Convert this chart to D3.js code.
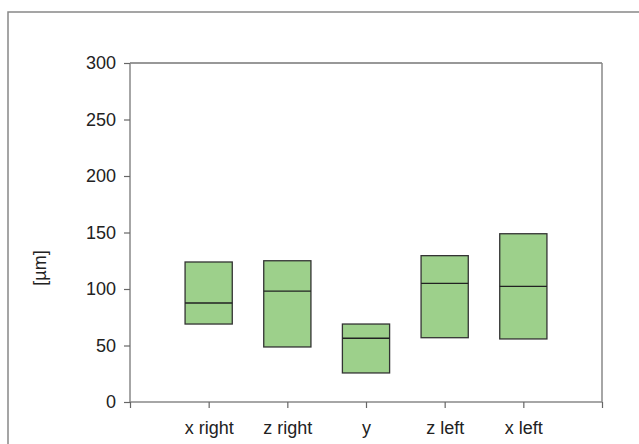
<!DOCTYPE html>
<html><head><meta charset="utf-8">
<script src="https://cdn.jsdelivr.net/npm/d3@7"></script>
<style>body{margin:0;background:#fff}svg{display:block}</style>
</head><body>
<svg id="c" width="639" height="444"></svg>
<script>
const categories = ["x right", "z right", "y", "z left", "x left"];
const lowValues = [69.0, 48.7, 25.7, 56.9, 55.8];
const medianValues = [87.6, 98.2, 56.4, 105.0, 102.4];
const highValues = [123.9, 125.0, 69.0, 129.5, 148.9];
const yTicks = [0, 50, 100, 150, 200, 250, 300];
const yLabel = "[µm]";

const svg = d3.select("#c");
const L = 130, R = 602, T = 63, B = 402;
const font = "'Liberation Sans', Arial, sans-serif";
const fs = 18;

// outer frame
svg.append("rect").attr("x", 8).attr("y", 12).attr("width", 700).attr("height", 500)
  .attr("fill", "none").attr("stroke", "#888").attr("stroke-width", 1.5);

const domain = ["_a", ...categories, "_b"];
const x = d3.scalePoint().domain(domain).range([L, R]);
const y = d3.scaleLinear().domain([0, 300]).range([B, T]);
const step = x.step();
const bw = step * 0.6;

// plot frame top & right
svg.append("line").attr("x1", L).attr("x2", R).attr("y1", T).attr("y2", T)
  .attr("stroke", "#333").attr("stroke-width", 1.2);
svg.append("line").attr("x1", R).attr("x2", R).attr("y1", T).attr("y2", B)
  .attr("stroke", "#888").attr("stroke-width", 1.5);

// boxes
const data = categories.map((c, i) => ({c, lo: lowValues[i], med: medianValues[i], hi: highValues[i]}));
const g = svg.append("g");
g.selectAll("rect.box").data(data).join("rect").attr("class", "box")
  .attr("x", d => x(d.c) - bw / 2).attr("width", bw)
  .attr("y", d => y(d.hi)).attr("height", d => y(d.lo) - y(d.hi))
  .attr("fill", "#9dd08b").attr("stroke", "#333").attr("stroke-width", 1.3);
g.selectAll("line.med").data(data).join("line").attr("class", "med")
  .attr("x1", d => x(d.c) - bw / 2).attr("x2", d => x(d.c) + bw / 2)
  .attr("y1", d => y(d.med)).attr("y2", d => y(d.med))
  .attr("stroke", "#222").attr("stroke-width", 1.3);

// y axis
const yAxis = svg.append("g").attr("transform", `translate(${L},0)`)
  .call(d3.axisLeft(y).tickValues(yTicks).tickSize(6).tickPadding(8));
// x axis
const xAxis = svg.append("g").attr("transform", `translate(0,${B})`)
  .call(d3.axisBottom(x).tickValues(domain).tickSize(6).tickPadding(13)
    .tickFormat(d => d.startsWith("_") ? "" : d));
[yAxis, xAxis].forEach(a => {
  a.attr("font-family", font).attr("font-size", fs);
  a.select(".domain").attr("stroke", "#888").attr("stroke-width", 1.5);
  a.selectAll(".tick line").attr("stroke", "#666").attr("stroke-width", 1.2);
  a.selectAll("text").attr("font-family", font).attr("font-size", fs).attr("fill", "#222");
});
yAxis.selectAll(".domain").attr("d", `M0,${T}V${B}`);
xAxis.selectAll(".domain").attr("d", `M${L},0H${R}`);

svg.append("text").attr("transform", "translate(46,268) rotate(-90)")
  .attr("text-anchor", "middle").attr("font-family", font).attr("font-size", fs)
  .attr("fill", "#222").text(yLabel);
</script>
</body></html>
